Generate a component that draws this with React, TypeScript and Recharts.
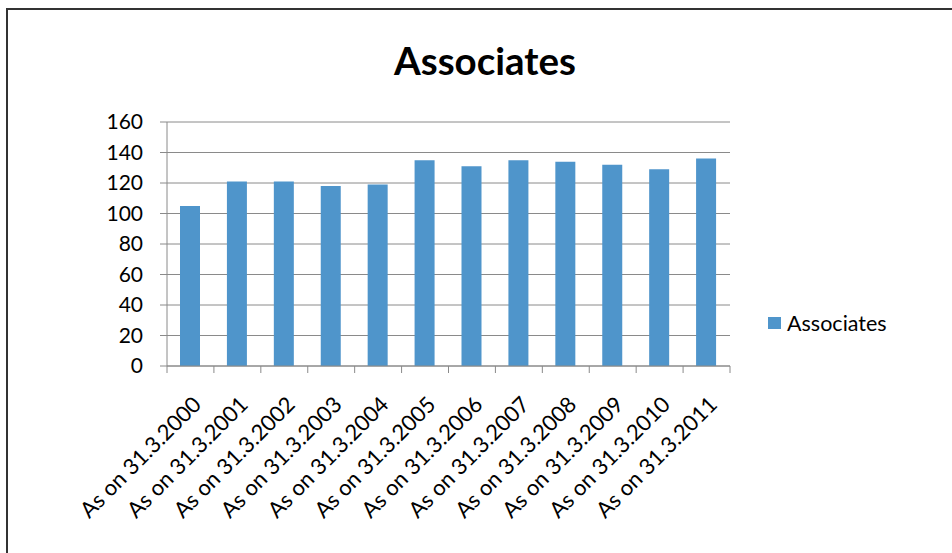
import React from "react";
import { BarChart, Bar, XAxis, YAxis, CartesianGrid, Legend } from "recharts";

const categories = [
  "As on 31.3.2000",
  "As on 31.3.2001",
  "As on 31.3.2002",
  "As on 31.3.2003",
  "As on 31.3.2004",
  "As on 31.3.2005",
  "As on 31.3.2006",
  "As on 31.3.2007",
  "As on 31.3.2008",
  "As on 31.3.2009",
  "As on 31.3.2010",
  "As on 31.3.2011",
];
const associates = [105, 121, 121, 118, 119, 135, 131, 135, 134, 132, 129, 136];
const yTicks = [0, 20, 40, 60, 80, 100, 120, 140, 160];
const seriesName = "Associates";
const titleText = "Associates";

const data = categories.map((c, i) => ({ name: c, value: associates[i] }));

const FONT = "Lato, 'Open Sans', sans-serif";
const GRID = "#8a8a8a";
const BAR = "#4f95cb";

const XTick = (props: any) => {
  const { x, y, payload, index, width, visibleTicksCount } = props;
  const half =
    payload && typeof payload.offset === "number" && payload.offset > 0
      ? payload.offset
      : width / visibleTicksCount / 2;
  const isLast = index === visibleTicksCount - 1;
  const tx = x + 12;
  const ty = y + 40;
  return (
    <g>
      <line x1={x - half} x2={x - half} y1={y} y2={y + 7} stroke={GRID} strokeWidth={1} />
      {isLast && (
        <line x1={x + half} x2={x + half} y1={y} y2={y + 7} stroke={GRID} strokeWidth={1} />
      )}
      <text
        x={tx}
        y={ty}
        transform={`rotate(-45 ${tx} ${ty})`}
        textAnchor="end"
        fontFamily={FONT}
        fontSize={22}
        fill="#000"
      >
        {payload.value}
      </text>
    </g>
  );
};

const LegendContent = () => (
  <div style={{ display: "flex", alignItems: "center", fontFamily: FONT, fontSize: 21.5, lineHeight: "26px", color: "#000" }}>
    <span style={{ width: 13, height: 12, background: BAR, display: "inline-block", marginRight: 6 }} />
    <span>{seriesName}</span>
  </div>
);

export default function App() {
  return (
    <div style={{ position: "absolute", left: 0, top: 0, width: 952, height: 553, background: "#fff", overflow: "hidden" }}>
      <div
        style={{
          position: "absolute",
          left: 6,
          top: 8,
          width: 1000,
          height: 600,
          borderTop: "2px solid #333",
          borderLeft: "2px solid #333",
          boxSizing: "border-box",
        }}
      />
      <div
        style={{
          position: "absolute",
          left: 0,
          width: 970,
          top: 37,
          textAlign: "center",
          fontFamily: FONT,
          fontWeight: 700,
          fontSize: 38.5,
          lineHeight: "46px",
          color: "#000",
        }}
      >
        {titleText}
      </div>
      <div style={{ position: "absolute", left: 0, top: 0 }}>
        <BarChart
          width={952}
          height={553}
          data={data}
          margin={{ top: 122, right: 222, bottom: 37, left: 0 }}
          barSize={20}
        >
          <CartesianGrid vertical={false} stroke={GRID} strokeWidth={1} />
          <XAxis
            dataKey="name"
            interval={0}
            height={150}
            tickLine={false}
            tickSize={0}
            tickMargin={0}
            axisLine={{ stroke: GRID }}
            tick={<XTick />}
          />
          <YAxis
            width={167}
            domain={[0, 160]}
            ticks={yTicks}
            interval={0}
            tickSize={7}
            tickMargin={17}
            tickLine={{ stroke: GRID }}
            axisLine={{ stroke: GRID }}
            tick={{ fontFamily: FONT, fontSize: 21, fill: "#000" }}
          />
          <Legend
            layout="horizontal"
            verticalAlign="middle"
            align="center"
            content={<LegendContent />}
            wrapperStyle={{ position: "absolute", left: 768, top: 310, width: 170, height: 26 }}
          />
          <Bar dataKey="value" name={seriesName} fill={BAR} isAnimationActive={false} />
        </BarChart>
      </div>
    </div>
  );
}
